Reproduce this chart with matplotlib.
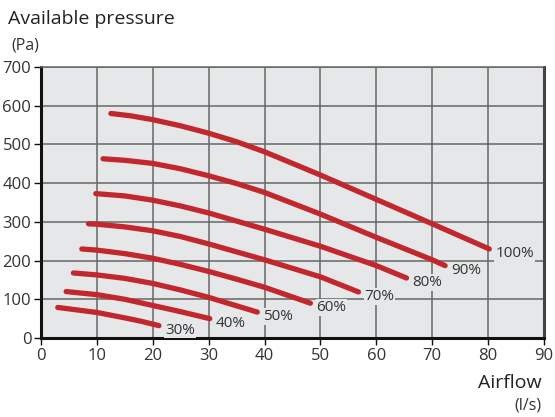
import numpy as np
import matplotlib
matplotlib.use("Agg")
import matplotlib.pyplot as plt

plt.rcParams["font.family"] = ["Open Sans", "DejaVu Sans"]

# Fan curves: airflow (l/s) vs available pressure (Pa), per speed setting
speeds = ["30%", "40%", "50%", "60%", "70%", "80%", "90%", "100%"]
flow = [
    [3.0, 10, 15, 18, 21.1],
    [4.5, 10, 15, 20, 25, 30.2],
    [5.8, 10, 15, 20, 25, 30, 38.7],
    [7.3, 10, 15, 20, 25, 30, 35, 40, 48.2],
    [8.5, 10, 15, 20, 25, 30, 40, 50, 56.8],
    [9.8, 15, 20, 25, 30, 40, 50, 60, 65.4],
    [11.1, 15, 20, 25, 30, 35, 40, 50, 60, 70, 72.3],
    [12.5, 16, 20, 25, 30, 35, 40, 50, 60, 70, 80.2],
]
pressure = [
    [79, 66, 52, 43, 32],
    [120, 112, 100, 84, 68, 50],
    [168, 163, 154, 141, 124, 105, 67],
    [230, 227, 218, 206, 190, 172, 152, 131, 90],
    [295, 294, 287, 277, 262, 243, 202, 158, 119],
    [373, 367, 356, 341, 323, 281, 237, 187, 155],
    [463, 459, 451, 437, 419, 399, 376, 320, 260, 202, 187],
    [580, 574, 564, 548, 529, 507, 481, 421, 358, 295, 230],
]

x_ticks = list(range(0, 91, 10))
y_ticks = list(range(0, 701, 100))

fig = plt.figure(figsize=(5.55, 4.17), dpi=100)
ax = fig.add_axes([0.0739, 0.1894, 0.9063, 0.6499])
ax.set_facecolor("#e6e7e9")

for fx, py, lab in zip(flow, pressure, speeds):
    ax.plot(fx, py, color="#c1272d", lw=3.8, solid_capstyle="round",
            solid_joinstyle="round", zorder=3)
    ax.annotate(lab, (fx[-1], py[-1]), xytext=(4.3, -3.3), textcoords="offset points",
                fontsize=11, color="#333333", ha="left", va="center", zorder=4,
                bbox=dict(boxstyle="square,pad=0.05", fc="#e6e7e9", ec="none"))

ax.set_xlim(0, 90)
ax.set_ylim(0, 700)
ax.set_xticks(x_ticks)
ax.set_yticks(y_ticks)
ax.grid(True, color="#666666", lw=1.1)
ax.set_axisbelow(True)

for s in ["left", "bottom"]:
    ax.spines[s].set_linewidth(2.2)
    ax.spines[s].set_color("#111111")
ax.spines["right"].set_linewidth(2.2)
ax.spines["right"].set_color("#444444")
ax.spines["top"].set_linewidth(1.1)
ax.spines["top"].set_color("#666666")

ax.tick_params(direction="out", length=5, width=1, colors="#111111",
               labelsize=12, labelcolor="#333333", pad=2)

fig.text(0.014, 0.955, "Available pressure", fontsize=14, color="#222222",
         ha="left", va="center")
fig.text(0.020, 0.891, "(Pa)", fontsize=11.5, color="#333333", ha="left", va="center")
fig.text(0.975, 0.082, "Airflow", fontsize=14, color="#222222", ha="right", va="center")
fig.text(0.975, 0.028, "(l/s)", fontsize=11.5, color="#333333", ha="right", va="center")

fig.savefig("out.png", dpi=100)
